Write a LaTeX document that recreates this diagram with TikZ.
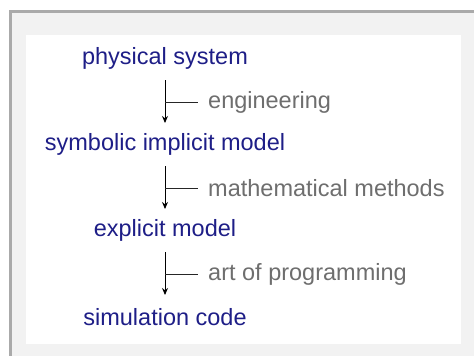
\documentclass[tikz,border=0pt]{standalone}
\usepackage{fontspec}
\setmainfont{Liberation Sans}
\usetikzlibrary{arrows.meta}
\definecolor{navy}{RGB}{30,30,135}
\definecolor{labelgray}{RGB}{110,110,110}
\definecolor{panel}{RGB}{242,242,242}
\definecolor{rim}{RGB}{170,170,170}
\tikzset{
  stage/.style={text=navy, font=\fontsize{23.5}{26}\selectfont, inner sep=0pt, anchor=center},
  note/.style={text=labelgray, font=\fontsize{23.5}{26}\selectfont, inner sep=0pt, anchor=west},
  flow/.style={line width=1pt, -{Stealth[length=7pt, width=6pt]}},
  tick/.style={line width=1pt, draw=black!85}
}
\begin{document}
\begin{tikzpicture}[x=1pt, y=-1pt]
  \useasboundingbox (0,0) rectangle (474,356);
  % outer panel with a rim on the left and top
  \fill[panel] (9,10) rectangle (474,356);
  \draw[rim, line width=2.5pt] (10.25,356) -- (10.25,11.25) -- (474,11.25);
  % white sheet
  \fill[white] (26,35) rectangle (461,344);

  % stages of the modelling chain
  \node[stage] (phys) at (165,58) {physical system};
  \node[stage] (symb) at (165,144) {symbolic implicit model};
  \node[stage] (expl) at (165,230) {explicit model};
  \node[stage] (simu) at (165,317) {simulation code};

  % arrows between stages, each with a side tick leading to its label
  \coordinate (a1s) at (165,80);  \coordinate (a1e) at (165,123);
  \coordinate (a2s) at (165,166); \coordinate (a2e) at (165,209);
  \coordinate (a3s) at (165,252); \coordinate (a3e) at (165,295);
  \draw[flow] (a1s) -- (a1e);
  \draw[flow] (a2s) -- (a2e);
  \draw[flow] (a3s) -- (a3e);

  \coordinate (t1) at (165,102); \coordinate (t2) at (165,188); \coordinate (t3) at (165,274);
  \node[note] (n1) at (208,102) {engineering};
  \node[note] (n2) at (208,188) {mathematical methods};
  \node[note] (n3) at (208,274) {art of programming};
  \draw[tick] (t1) -- ++(33,0);
  \draw[tick] (t2) -- ++(33,0);
  \draw[tick] (t3) -- ++(33,0);
\end{tikzpicture}
\end{document}
